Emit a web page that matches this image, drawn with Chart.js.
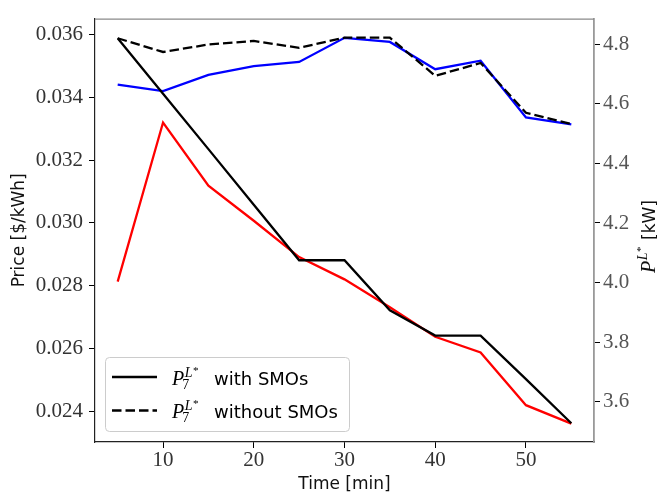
<!DOCTYPE html>
<html><head><meta charset="utf-8">
<script src="https://cdn.jsdelivr.net/npm/chart.js@4.4.0/dist/chart.umd.min.js"></script>
<style>html,body{margin:0;padding:0;background:#fff;}#wrap{width:657px;height:498px;}</style>
</head><body><div id="wrap"><canvas id="c" width="657" height="498"></canvas></div>
<script>
const times = [5, 10, 15, 20, 25, 30, 35, 40, 45, 50, 55];
const priceWithSMOs = [0.02813, 0.03320, 0.03119, 0.03007, 0.02891, 0.02820, 0.02731, 0.02637, 0.02587, 0.02419, 0.02360];
const priceWithoutSMOs = [0.03441, 0.03420, 0.03472, 0.03500, 0.03513, 0.03590, 0.03577, 0.03490, 0.03517, 0.03336, 0.03314];
const powerWithSMOs = [4.820, 4.634, 4.448, 4.261, 4.075, 4.075, 3.907, 3.822, 3.822, 3.676, 3.528];
const powerWithoutSMOs = [4.820, 4.774, 4.799, 4.811, 4.788, 4.822, 4.822, 4.694, 4.737, 4.570, 4.532];
const xTicks = [10, 20, 30, 40, 50];
const priceTicks = [0.024, 0.026, 0.028, 0.030, 0.032, 0.034, 0.036];
const powerTicks = [3.6, 3.8, 4.0, 4.2, 4.4, 4.6, 4.8];
const legendLabels = ['with SMOs', 'without SMOs'];

const pts = arr => times.map((t, i) => ({x: t, y: arr[i]}));
const SERIF = '"Liberation Serif", serif';
const SANS = '"DejaVu Sans", sans-serif';

function drawPSym(ctx, x, y, size, sub) {
  ctx.textAlign = 'left';
  ctx.textBaseline = 'alphabetic';
  ctx.font = `italic ${size}px ${SERIF}`;
  ctx.fillText('P', x, y);
  const pw = ctx.measureText('P').width;
  const ss = size * 0.7;
  ctx.font = `italic ${ss}px ${SERIF}`;
  const lx = x + pw + 0.5;
  ctx.fillText('L', lx, y - size * 0.4);
  const lw = ctx.measureText('L').width;
  ctx.font = `${ss * 0.8}px ${SERIF}`;
  ctx.fillText('*', lx + lw + 0.5, y - size * 0.55);
  const sw = ctx.measureText('*').width;
  let end = lx + lw + 0.5 + sw;
  if (sub) {
    ctx.font = `${ss}px ${SERIF}`;
    ctx.fillText(sub, x + pw - 2, y + size * 0.2);
  }
  return end - x;
}

const decor = {
  id: 'decor',
  afterDraw(chart) {
    const ctx = chart.ctx;
    const a = chart.chartArea;
    ctx.save();
    // top spine
    ctx.strokeStyle = '#8a8a8a';
    ctx.lineWidth = 1.2;
    ctx.beginPath();
    ctx.moveTo(a.left, a.top + 0.5);
    ctx.lineTo(a.right, a.top + 0.5);
    ctx.stroke();
    // legend
    const lx = 105, ly = 357, lw = 244, lh = 74;
    ctx.fillStyle = 'rgba(255,255,255,0.85)';
    ctx.strokeStyle = '#cccccc';
    ctx.lineWidth = 1;
    ctx.beginPath();
    ctx.roundRect(lx + 0.5, ly + 0.5, lw, lh, 4);
    ctx.fill();
    ctx.stroke();
    const rows = [{y: 377, base: 384.5, dash: []}, {y: 410.5, base: 418, dash: [9.5, 4]}];
    rows.forEach((r, i) => {
      ctx.strokeStyle = '#000';
      ctx.lineWidth = 2.4;
      ctx.setLineDash(r.dash);
      ctx.beginPath();
      ctx.moveTo(112, r.y);
      ctx.lineTo(157, r.y);
      ctx.stroke();
      ctx.setLineDash([]);
      ctx.fillStyle = '#000';
      drawPSym(ctx, 172, r.base, 20, '7');
      ctx.font = `18px ${SANS}`;
      ctx.textAlign = 'left';
      ctx.fillText(legendLabels[i], 214, r.base);
    });
    // right axis title
    ctx.translate(655, 0);
    ctx.rotate(-Math.PI / 2);
    ctx.fillStyle = '#111';
    const w = drawPSym(ctx, -273, 0, 20, null);
    ctx.font = `17px ${SANS}`;
    ctx.textAlign = 'left';
    ctx.fillText(' [kW]', -273 + w + 1, 0);
    ctx.restore();
  }
};

const ds = (label, data, color, axis, dash) => ({
  label, data: pts(data), borderColor: color, backgroundColor: color,
  borderWidth: 2.3, pointRadius: 0, tension: 0, yAxisID: axis,
  borderDash: dash || [], fill: false
});

new Chart(document.getElementById('c'), {
  type: 'line',
  data: {
    datasets: [
      ds('P with SMOs', powerWithSMOs, '#000000', 'yP'),
      ds('P without SMOs', powerWithoutSMOs, '#000000', 'yP', [9.5, 4]),
      ds('Price with SMOs', priceWithSMOs, '#ff0000', 'yPrice'),
      ds('Price without SMOs', priceWithoutSMOs, '#0000ff', 'yPrice')
    ]
  },
  options: {
    responsive: false,
    animation: false,
    devicePixelRatio: 1,
    layout: {padding: {top: 13, left: 0, right: 0, bottom: 0}},
    plugins: {legend: {display: false}, tooltip: {enabled: false}},
    scales: {
      x: {
        type: 'linear', min: 2.5, max: 57.5,
        afterBuildTicks: s => { s.ticks = xTicks.map(v => ({value: v})); },
        afterFit: s => { s.height = 56; },
        grid: {drawOnChartArea: false, drawTicks: true, tickLength: 6, tickColor: '#000', tickWidth: 1},
        border: {display: true, color: '#222', width: 1.2},
        ticks: {color: '#333', font: {family: SERIF, size: 21}, padding: 0, maxRotation: 0,
          callback: v => String(v)},
        title: {display: true, text: 'Time [min]', color: '#111', font: {family: SANS, size: 17}, padding: {top: 0, bottom: 3}}
      },
      yPrice: {
        type: 'linear', position: 'left', min: 0.023016, max: 0.036513,
        afterBuildTicks: s => { s.ticks = priceTicks.map(v => ({value: v})); },
        afterFit: s => { s.width = 95; },
        grid: {drawOnChartArea: false, drawTicks: true, tickLength: 6, tickColor: '#000', tickWidth: 1},
        border: {display: true, color: '#222', width: 1.2},
        ticks: {color: '#333', font: {family: SERIF, size: 21}, padding: 6,
          callback: v => v.toFixed(3)},
        title: {display: true, text: 'Price [$/kWh]', color: '#111', font: {family: SANS, size: 17}, padding: {top: 9, bottom: 0}}
      },
      yP: {
        type: 'linear', position: 'right', min: 3.465, max: 4.886,
        afterBuildTicks: s => { s.ticks = powerTicks.map(v => ({value: v})); },
        afterFit: s => { s.width = 63; },
        grid: {drawOnChartArea: false, drawTicks: true, tickLength: 6, tickColor: '#000', tickWidth: 1},
        border: {display: true, color: '#999', width: 1.8},
        ticks: {color: '#555', font: {family: SERIF, size: 21}, padding: 3,
          callback: v => v.toFixed(1)}
      }
    }
  },
  plugins: [decor]
});
</script></body></html>
